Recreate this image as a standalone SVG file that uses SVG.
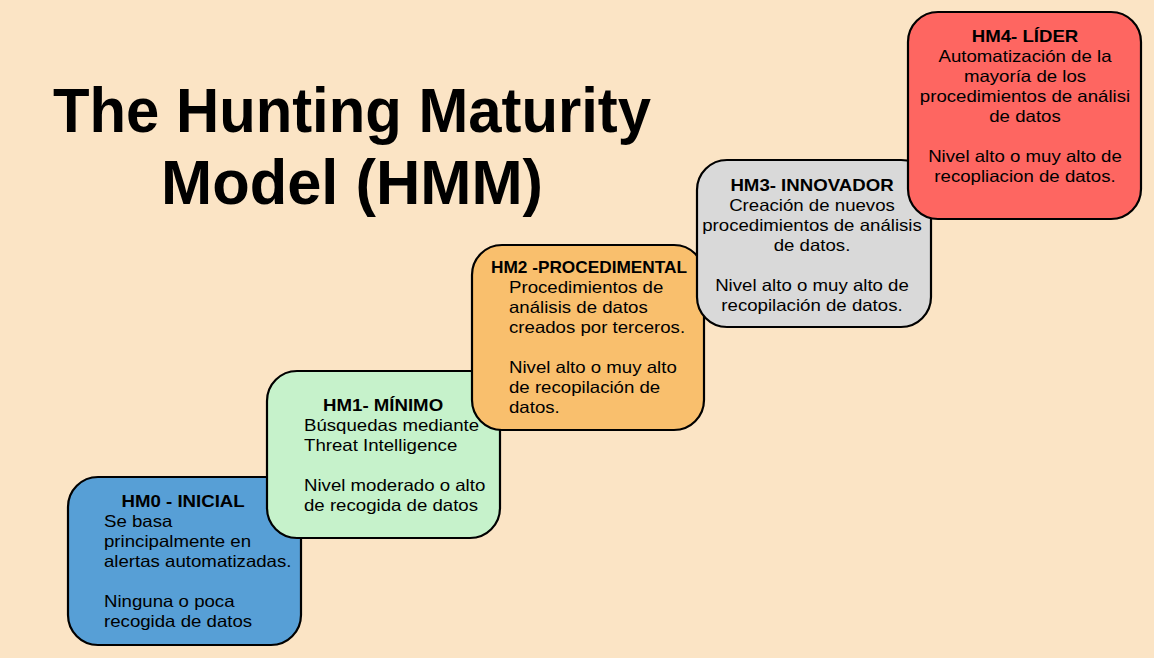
<svg xmlns="http://www.w3.org/2000/svg" width="1154" height="658" viewBox="0 0 1154 658">
<style>
.box{stroke:#000;stroke-width:2.2}
text{font-family:"Liberation Sans",Arial,sans-serif;fill:#000}
.t{font-size:16.5px;font-weight:bold}
.b{font-size:16.5px}
.m{text-anchor:middle}
.h{font-size:63px;font-weight:bold}
</style>
<rect width="1154" height="658" fill="#FBE4C5"/>
<g id="title">
<text class="h" x="53" y="132" textLength="598" lengthAdjust="spacingAndGlyphs">The Hunting Maturity</text>
<text class="h" x="161" y="204" textLength="382" lengthAdjust="spacingAndGlyphs">Model (HMM)</text>
</g>
<g id="connectors"></g>
<g id="hm0">
<rect class="box" x="68" y="477" width="233" height="168" rx="30" fill="#579FD6"/>
<g transform="translate(104,0) scale(1.13,1)">
<text class="t m" x="70" y="507">HM0 - INICIAL</text>
<text class="b" x="0" y="527">Se basa</text>
<text class="b" x="0" y="547">principalmente en</text>
<text class="b" x="0" y="567">alertas automatizadas.</text>
<text class="b" x="0" y="607">Ninguna o poca</text>
<text class="b" x="0" y="627">recogida de datos</text>
</g>
</g>
<g id="hm1">
<rect class="box" x="267" y="371" width="233" height="167" rx="30" fill="#C6F2CB"/>
<g transform="translate(304,0) scale(1.13,1)">
<text class="t m" x="70" y="411">HM1- MÍNIMO</text>
<text class="b" x="0" y="431">Búsquedas mediante</text>
<text class="b" x="0" y="451">Threat Intelligence</text>
<text class="b" x="0" y="491">Nivel moderado o alto</text>
<text class="b" x="0" y="511">de recogida de datos</text>
</g>
</g>
<g id="hm2">
<rect class="box" x="472" y="245" width="232" height="185" rx="30" fill="#F9BF6D"/>
<g transform="translate(509,0) scale(1.13,1)">
<text class="t m" x="70.8" y="273" textLength="173.5" lengthAdjust="spacingAndGlyphs">HM2 -PROCEDIMENTAL</text>
<text class="b" x="0" y="293">Procedimientos de</text>
<text class="b" x="0" y="313">análisis de datos</text>
<text class="b" x="0" y="333">creados por terceros.</text>
<text class="b" x="0" y="373">Nivel alto o muy alto</text>
<text class="b" x="0" y="393">de recopilación de</text>
<text class="b" x="0" y="413">datos.</text>
</g>
</g>
<g id="hm3">
<rect class="box" x="697" y="160" width="234" height="167" rx="30" fill="#D9D9D9"/>
<g transform="translate(812,0) scale(1.13,1)">
<text class="t m" x="0" y="191">HM3- INNOVADOR</text>
<text class="b m" x="0" y="211">Creación de nuevos</text>
<text class="b m" x="0" y="231">procedimientos de análisis</text>
<text class="b m" x="0" y="251">de datos.</text>
<text class="b m" x="0" y="291">Nivel alto o muy alto de</text>
<text class="b m" x="0" y="311">recopilación de datos.</text>
</g>
</g>
<g id="hm4">
<rect class="box" x="908" y="12" width="233" height="207" rx="30" fill="#FE6661"/>
<g transform="translate(1025,0) scale(1.13,1)">
<text class="t m" x="0" y="42">HM4- LÍDER</text>
<text class="b m" x="0" y="62">Automatización de la</text>
<text class="b m" x="0" y="82">mayoría de los</text>
<text class="b m" x="0" y="102">procedimientos de análisi</text>
<text class="b m" x="0" y="122">de datos</text>
<text class="b m" x="0" y="162">Nivel alto o muy alto de</text>
<text class="b m" x="0" y="182">recopliacion de datos.</text>
</g>
</g>
</svg>
